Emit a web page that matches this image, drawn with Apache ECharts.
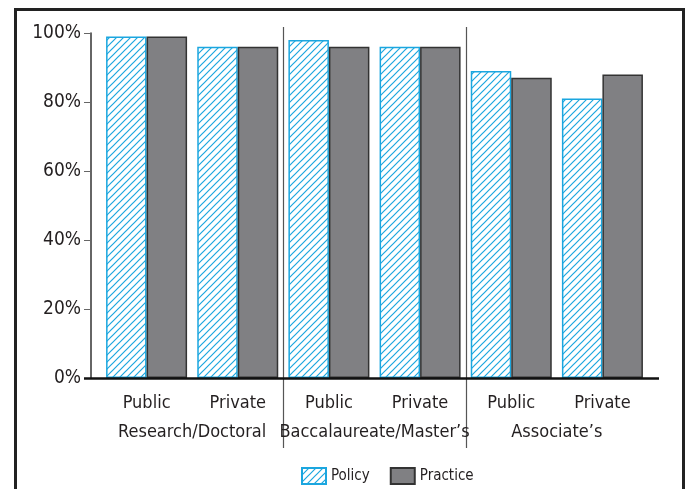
<!DOCTYPE html>
<html>
<head>
<meta charset="utf-8">
<script src="https://cdn.jsdelivr.net/npm/echarts@6/dist/echarts.min.js"></script>
<style>
  html, body { margin: 0; padding: 0; background: #fff; }
  #chart { width: 689px; height: 489px; }
</style>
</head>
<body>
<div id="chart"></div>
<script>
// data
const types = ['Public', 'Private', 'Public', 'Private', 'Public', 'Private']
const groups = ['Research/Doctoral', 'Baccalaureate/Master\u2019s', 'Associate\u2019s']
const policy = [99, 96, 98, 96, 89, 81]
const practice = [99, 96, 96, 96, 87, 88]
const yTicks = [0, 20, 40, 60, 80, 100]

const font = '"Liberation Sans Narrow", "DejaVu Sans Condensed", sans-serif'
const textColor = '#231f20'
const cyan = '#1ba6df'

// diagonal hatch for the Policy bars
function hatch() {
  const c = document.createElement('canvas')
  c.width = 7
  c.height = 7
  const ctx = c.getContext('2d')
  ctx.fillStyle = '#fff'
  ctx.fillRect(0, 0, 7, 7)
  ctx.strokeStyle = cyan
  ctx.lineWidth = 1.2
  ctx.beginPath()
  ctx.moveTo(-1, 8); ctx.lineTo(8, -1)
  ctx.moveTo(-8, 8); ctx.lineTo(1, -1)
  ctx.moveTo(6, 8); ctx.lineTo(15, -1)
  ctx.stroke()
  return c
}

let grid = { left: 101, top: 33, width: 547, height: 345 }

let myCharts = echarts.init(document.getElementById('chart'))
let labelStyle = { margin: 16, fontSize: 18, lineHeight: 18, color: textColor, fontFamily: font, interval: 0 }
let option = {
  animation: false,
  textStyle: { fontFamily: font },
  grid: grid,
  legend: {
    left: 296,
    top: 462,
    icon: 'rect',
    itemWidth: 24,
    itemHeight: 16,
    itemGap: 20,
    textStyle: { fontFamily: font, fontSize: 15, color: textColor },
    data: ['Policy', 'Practice']
  },
  xAxis: [
    {
      type: 'category',
      data: types,
      axisLine: { show: false },
      axisTick: { show: false },
      axisLabel: labelStyle
    },
    {
      type: 'category',
      position: 'bottom',
      offset: 29,
      data: groups,
      axisLine: { show: false },
      axisTick: { show: false },
      axisLabel: labelStyle
    }
  ],
  yAxis: {
    type: 'value',
    min: 0,
    max: 100,
    interval: 20,
    offset: 10,
    splitLine: { show: false },
    axisLine: { show: true, lineStyle: { color: '#333', width: 1.5 } },
    axisTick: { show: true, length: 7, lineStyle: { color: '#666' } },
    axisLabel: {
      margin: 10,
      fontSize: 19,
      color: textColor,
      fontFamily: font,
      formatter: v => yTicks.includes(v) ? v + '%' : ''
    }
  },
  series: [
    {
      name: 'Policy',
      type: 'bar',
      data: policy,
      barWidth: 40.5,
      barGap: 0,
      itemStyle: {
        color: { image: hatch(), repeat: 'repeat' },
        borderColor: cyan,
        borderWidth: 1.5
      }
    },
    {
      name: 'Practice',
      type: 'bar',
      data: practice,
      barWidth: 40.5,
      barGap: 0,
      itemStyle: { color: '#808083', borderColor: '#333', borderWidth: 1.5 }
    }
  ]
}
myCharts.setOption(option)

// frame, x axis line and group separators
let bottom = grid.top + grid.height
let seps = [1, 3].map(i => {
  let a = myCharts.convertToPixel({ xAxisIndex: 0 }, i)
  let b = myCharts.convertToPixel({ xAxisIndex: 0 }, i + 1)
  let x = Math.round((a + b) / 2) + 0.5
  return {
    type: 'line',
    shape: { x1: x, y1: 27, x2: x, y2: 448 },
    style: { stroke: '#555', lineWidth: 1.2 }
  }
})
myCharts.setOption({
  graphic: [
    {
      type: 'rect',
      shape: { x: 15.5, y: 9.5, width: 668, height: 500 },
      style: { fill: null, stroke: '#222', lineWidth: 3 }
    },
    {
      type: 'line',
      shape: { x1: 84, y1: bottom + 0.5, x2: 659, y2: bottom + 0.5 },
      style: { stroke: '#111', lineWidth: 2.5 },
      z: 10
    }
  ].concat(seps)
})
</script>
</body>
</html>
